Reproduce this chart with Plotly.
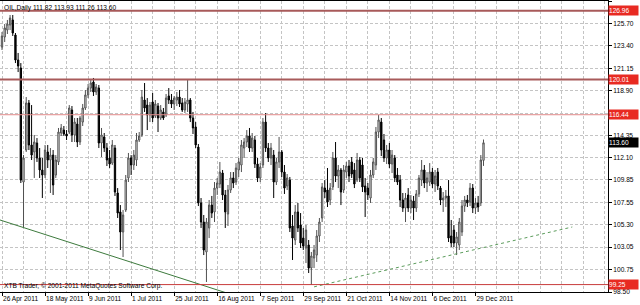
import plotly.graph_objects as go

# ---- data ----
bars = list(range(180))
opens = [123.29, 124.31, 125.01, 125.52, 126.03, 124.51, 121.98, 121.17, 109.63, 112.87,
         117.63, 113.38, 112.67, 113.58, 112.06, 110.85, 110.34, 112.67, 111.86, 112.36,
         110.34, 111.66, 114.59, 114.89, 114.49, 114.69, 116.92, 114.39, 115.50, 113.68,
         115.70, 117.12, 118.44, 119.14, 119.75, 118.74, 119.14, 113.58, 114.19, 113.07,
         112.06, 111.55, 113.07, 108.52, 106.60, 104.57, 106.80, 110.04, 112.06, 111.35,
         111.86, 113.88, 114.39, 117.93, 117.42, 116.41, 117.73, 116.31, 117.32, 116.11,
         116.72, 116.41, 118.34, 117.93, 117.53, 117.93, 118.23, 117.63, 116.92, 117.53,
         117.93, 116.11, 115.20, 113.17, 107.51, 105.58, 102.55, 104.98, 107.30, 106.60,
         109.02, 109.43, 110.54, 108.32, 106.39, 108.82, 110.04, 109.63, 110.85, 111.35,
         113.07, 113.68, 114.29, 113.07, 113.88, 111.45, 110.04, 111.35, 115.70, 113.07,
         112.06, 112.36, 109.63, 111.66, 112.67, 110.64, 109.23, 109.83, 105.18, 103.76,
         106.60, 105.28, 103.96, 102.95, 103.26, 100.93, 101.94, 102.24, 104.17, 105.99,
         109.02, 108.82, 107.81, 109.13, 112.06, 110.24, 110.85, 108.82, 110.64, 111.25,
         111.66, 110.85, 109.83, 111.86, 111.35, 109.23, 109.02, 108.01, 110.34, 111.35,
         114.69, 115.70, 113.88, 112.06, 112.87, 111.45, 112.06, 110.34, 109.83, 107.81,
         107.00, 108.32, 107.00, 107.71, 107.00, 108.42, 109.83, 110.85, 109.53, 109.63,
         110.64, 109.43, 110.64, 109.02, 107.81, 108.01, 108.22, 104.17, 104.77, 103.46,
         103.26, 104.57, 107.20, 107.81, 107.61, 109.02, 107.00, 107.51, 107.51, 111.82]
highs = [124.81, 125.62, 126.03, 126.53, 126.53, 124.71, 122.69, 121.67, 112.36, 118.23,
         117.93, 117.42, 114.39, 114.08, 113.07, 112.06, 113.38, 113.38, 113.07, 112.87,
         112.36, 115.10, 115.50, 115.30, 114.89, 117.42, 117.32, 116.11, 116.11, 116.31,
         117.53, 118.94, 119.55, 120.06, 120.16, 119.55, 119.45, 115.10, 114.59, 113.58,
         112.87, 113.88, 113.38, 109.02, 107.30, 106.80, 110.34, 112.57, 112.36, 112.87,
         114.59, 114.69, 118.94, 119.65, 118.13, 117.73, 118.64, 117.93, 117.63, 117.42,
         117.12, 118.54, 119.14, 118.54, 118.34, 118.74, 118.94, 118.13, 118.13, 119.95,
         118.13, 116.72, 115.70, 113.48, 108.01, 106.29, 105.99, 107.81, 108.22, 109.63,
         110.04, 111.66, 110.85, 108.82, 109.33, 110.64, 110.64, 111.55, 112.06, 113.88,
         114.08, 114.89, 115.10, 114.59, 114.29, 112.06, 111.55, 116.11, 116.61, 113.58,
         113.58, 112.87, 112.06, 114.19, 112.87, 111.35, 110.44, 110.14, 106.29, 107.30,
         107.51, 106.49, 104.98, 105.28, 103.76, 102.55, 103.26, 104.77, 105.99, 109.53,
         109.83, 111.05, 109.53, 112.67, 113.68, 111.35, 111.05, 111.35, 111.66, 111.86,
         112.16, 111.55, 112.57, 112.16, 112.06, 110.04, 109.53, 110.85, 112.06, 115.20,
         116.41, 116.11, 114.49, 113.38, 113.58, 112.87, 112.36, 111.05, 110.34, 108.52,
         108.52, 109.02, 108.32, 108.22, 108.82, 110.34, 111.86, 111.35, 110.64, 111.55,
         111.05, 110.85, 111.05, 109.23, 108.62, 108.82, 109.83, 105.79, 105.28, 104.57,
         105.99, 107.81, 108.22, 108.32, 109.53, 109.43, 108.01, 108.22, 112.36, 113.93]
lows = [122.99, 123.80, 124.61, 125.01, 124.41, 121.67, 120.76, 109.53, 105.08, 112.67,
        112.87, 111.86, 110.04, 111.66, 110.04, 108.01, 110.04, 111.05, 108.52, 108.32,
        110.04, 111.35, 114.29, 114.29, 113.88, 114.49, 113.68, 113.68, 113.17, 113.38,
        115.30, 116.92, 118.13, 118.74, 118.34, 118.44, 113.07, 112.16, 112.67, 111.25,
        111.05, 111.35, 108.22, 105.99, 102.75, 102.04, 106.60, 109.63, 110.34, 110.85,
        111.25, 113.68, 114.19, 116.72, 114.89, 115.70, 115.70, 116.11, 114.69, 115.91,
        115.91, 116.21, 117.53, 117.12, 116.92, 117.32, 117.22, 116.72, 116.61, 116.72,
        115.70, 114.49, 113.07, 107.20, 104.98, 102.24, 99.51, 103.96, 105.99, 105.58,
        108.32, 109.02, 107.81, 104.98, 105.18, 108.52, 109.02, 109.33, 110.14, 110.64,
        112.06, 113.17, 112.67, 112.67, 111.05, 109.63, 109.63, 111.05, 112.67, 111.66,
        111.35, 108.01, 109.33, 111.05, 110.14, 108.42, 108.82, 104.57, 101.74, 103.26,
        104.57, 102.95, 102.75, 101.43, 100.42, 99.21, 100.93, 101.54, 103.56, 105.58,
        108.01, 107.10, 107.30, 108.82, 109.63, 109.02, 107.30, 108.52, 110.04, 109.63,
        110.04, 109.02, 109.63, 109.63, 108.62, 106.09, 107.81, 107.51, 110.04, 110.85,
        114.08, 112.26, 111.66, 111.45, 111.05, 110.54, 109.63, 109.33, 107.10, 106.60,
        105.58, 106.60, 106.49, 105.79, 106.60, 108.11, 109.23, 109.02, 108.62, 109.23,
        109.02, 108.62, 108.82, 107.30, 106.60, 107.10, 103.56, 103.05, 103.05, 102.24,
        102.75, 104.17, 106.60, 107.10, 107.20, 106.49, 106.39, 106.60, 107.20, 111.26]
closes = [124.41, 125.22, 125.62, 126.23, 124.71, 121.98, 121.37, 109.83, 112.06, 117.63,
          113.38, 112.36, 113.68, 112.06, 110.85, 110.34, 112.87, 111.86, 112.36, 109.33,
          111.86, 114.69, 115.10, 114.49, 114.29, 117.12, 114.39, 115.70, 113.68, 116.11,
          117.12, 118.44, 119.14, 119.65, 118.74, 119.25, 113.58, 114.39, 113.07, 111.86,
          111.45, 113.38, 108.62, 106.49, 104.57, 106.29, 109.83, 112.06, 111.35, 112.36,
          113.88, 114.29, 118.23, 117.12, 116.41, 117.42, 116.11, 117.53, 116.11, 116.92,
          116.11, 118.13, 117.93, 117.53, 118.13, 118.23, 117.53, 116.92, 117.73, 117.93,
          116.11, 115.10, 113.38, 107.51, 105.58, 102.75, 105.58, 107.30, 106.49, 109.02,
          109.53, 110.64, 108.32, 106.60, 108.82, 110.04, 109.53, 111.05, 111.66, 113.38,
          113.68, 114.29, 113.07, 114.08, 111.45, 110.04, 111.15, 115.70, 113.07, 112.06,
          113.07, 109.63, 111.66, 112.67, 110.64, 109.02, 110.04, 104.98, 103.96, 106.60,
          104.98, 103.46, 103.15, 104.77, 100.93, 102.14, 102.75, 104.17, 105.58, 109.13,
          108.62, 107.61, 109.02, 112.06, 110.24, 110.85, 108.62, 110.85, 111.25, 110.24,
          110.44, 109.43, 111.86, 110.04, 109.13, 108.62, 108.32, 110.34, 111.66, 114.69,
          115.91, 112.87, 112.06, 112.87, 111.45, 112.36, 110.04, 109.63, 107.81, 107.00,
          108.01, 107.00, 107.81, 107.00, 108.42, 110.04, 110.85, 109.53, 110.04, 110.64,
          109.43, 110.24, 109.23, 107.81, 108.01, 108.22, 103.96, 103.46, 103.46, 104.07,
          105.58, 107.20, 107.81, 107.51, 109.02, 107.00, 107.51, 107.10, 111.86, 113.60]

date_ticks = [0, 16, 32, 48, 64, 80, 96, 112, 128, 144, 160, 176]
date_labels = ["26 Apr 2011", "18 May 2011", "9 Jun 2011", "1 Jul 2011", "25 Jul 2011",
               "16 Aug 2011", "7 Sep 2011", "29 Sep 2011", "21 Oct 2011", "14 Nov 2011",
               "6 Dec 2011", "29 Dec 2011"]
minor_grid = [8, 24, 40, 56, 72, 88, 104, 120, 136, 152, 168, 184, 192, 200, 208, 216, 224]

price_ticks = [127.95, 125.70, 123.40, 121.15, 118.90, 116.60, 114.35, 112.10,
               109.85, 107.55, 105.30, 103.05, 100.75, 98.50]
# the 116.60 label is hidden behind the 116.44 level box in the reference
price_labels = ["127.95", "125.70", "123.40", "121.15", "118.90", "", "114.35", "112.10",
                "109.85", "107.55", "105.30", "103.05", "100.75", "98.50"]

level_prices = [126.96, 120.01, 116.44, 99.25]
level_colors = ["#a85a5a", "#a85a5a", "#e08a8a", "#c83c3c"]
level_widths = [2, 2, 1, 1]

trend1_bars = [-1, 84]
trend1_prices = [105.81, 98.36]
trend2_bars = [116, 212]
trend2_prices = [99.02, 105.08]

title_text = "OIL,Daily 111.82 113.93 111.26 113.60"
footer_text = "XTB Trader, \u00a9 2001-2011 MetaQuotes Software Corp."
last_price = 113.60

FONT = "Liberation Sans"
FS = 6.6

fig = go.Figure()
fig.add_trace(go.Candlestick(
    x=bars, open=opens, high=highs, low=lows, close=closes,
    increasing=dict(line=dict(color="#505050", width=1), fillcolor="#ffffff"),
    decreasing=dict(line=dict(color="#000000", width=1), fillcolor="#000000"),
    whiskerwidth=0, showlegend=False, hoverinfo="skip"))

fig.add_trace(go.Scatter(x=trend1_bars, y=trend1_prices, mode="lines",
                         line=dict(color="#3d7a3d", width=1), showlegend=False, hoverinfo="skip"))
fig.add_trace(go.Scatter(x=trend2_bars, y=trend2_prices, mode="lines",
                         line=dict(color="#5c9c5c", width=1, dash="3px,3px"),
                         showlegend=False, hoverinfo="skip"))

for p, c, w in zip(level_prices, level_colors, level_widths):
    fig.add_shape(type="line", xref="paper", x0=0, x1=1, yref="y", y0=p, y1=p,
                  line=dict(color=c, width=w), layer="above")
    fig.add_annotation(x=1, xref="paper", xanchor="left", y=p, yref="y", yanchor="middle",
                       text=f"{p:.2f}", showarrow=False, bgcolor="#e82a22",
                       font=dict(color="white", size=FS, family=FONT),
                       width=29, height=9, align="left", borderpad=0)

fig.add_annotation(x=1, xref="paper", xanchor="left", y=last_price, yref="y", yanchor="middle",
                   text=f"{last_price:.2f}", showarrow=False, bgcolor="#000000",
                   font=dict(color="white", size=FS, family=FONT),
                   width=29, height=9, align="left", borderpad=0)

fig.add_annotation(x=0, xref="paper", xanchor="left", xshift=2, y=1, yref="paper", yanchor="top",
                   yshift=-1, text=title_text, showarrow=False,
                   font=dict(color="black", size=FS, family=FONT))
fig.add_annotation(x=0, xref="paper", xanchor="left", xshift=2, y=0, yref="paper", yanchor="bottom",
                   yshift=0, text=footer_text, showarrow=False,
                   font=dict(color="black", size=FS, family=FONT))

fig.update_layout(
    width=640, height=305,
    margin=dict(l=0, r=32, t=1, b=13),
    paper_bgcolor="white", plot_bgcolor="white",
    font=dict(family=FONT, size=FS, color="black"),
    boxgap=0.3,
    xaxis=dict(range=[-0.743, 225.28], rangeslider=dict(visible=False),
               tickmode="array", tickvals=date_ticks, ticktext=date_labels, tickangle=0,
               ticklabelposition="outside right", ticks="outside", ticklen=3,
               tickcolor="black", showline=True, linecolor="black", linewidth=1, mirror=True,
               showgrid=True, gridcolor="#c4c4c4", griddash="3px,2px", gridwidth=1,
               minor=dict(tickmode="array", tickvals=minor_grid, showgrid=True,
                          gridcolor="#c4c4c4", griddash="3px,2px", gridwidth=1, ticks=""),
               zeroline=False, fixedrange=True),
    yaxis=dict(range=[98.50, 127.95], side="right", tickmode="array", tickvals=price_ticks,
               ticktext=price_labels, ticks="outside", ticklen=3,
               tickcolor="black", showline=True, linecolor="black", linewidth=1, mirror=True,
               showgrid=True, gridcolor="#c4c4c4", griddash="3px,2px", gridwidth=1,
               zeroline=False, fixedrange=True),
)

fig.write_html("out.html")
